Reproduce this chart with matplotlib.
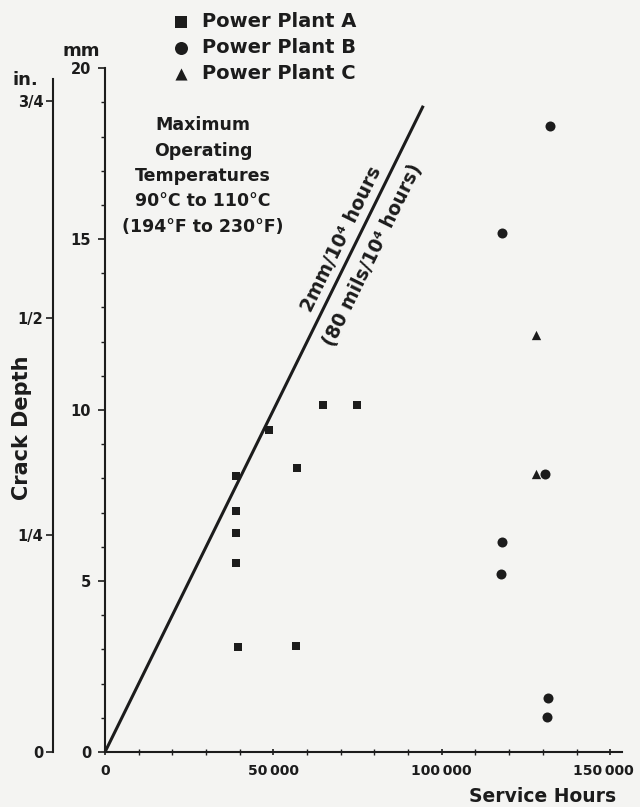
import numpy as np
import matplotlib
matplotlib.use('Agg')
import matplotlib.pyplot as plt
from matplotlib.transforms import ScaledTranslation

# crack depth (mm) vs service hours
plant_a_hours = [38900, 38900, 38900, 38900, 39500, 48700, 57000, 56700, 64700, 74800]
plant_a_mm = [8.07, 7.05, 6.40, 5.53, 3.07, 9.42, 8.30, 3.10, 10.15, 10.15]

plant_b_hours = [132200, 117900, 130700, 117900, 117600, 131600, 131300]
plant_b_mm = [18.3, 15.18, 8.13, 6.14, 5.20, 1.58, 1.02]

plant_c_hours = [128000, 128000]
plant_c_mm = [12.19, 8.13]

line_hours = [0, 94500]
line_mm = [0, 18.9]

x_ticks = [0, 50000, 100000, 150000]
x_labels = ['0', '50\u2009000', '100\u2009000', '150\u2009000']
mm_ticks = [0, 5, 10, 15, 20]
in_ticks = [0, 0.25, 0.5, 0.75]
in_labels = ['0', '1/4', '1/2', '3/4']
temp_lines = ['Maximum', 'Operating', 'Temperatures',
              '90\u00b0C to 110\u00b0C', '(194\u00b0F to 230\u00b0F)']

W, H = 640, 807
ink = '#1c1c1c'
bg = '#f4f4f2'

plt.rcParams['font.family'] = ['DejaVu Sans']
plt.rcParams['font.weight'] = 'bold'
plt.rcParams['text.color'] = ink


def fpos(x, y):
    return x / W, 1 - y / H


fig = plt.figure(figsize=(6.4, 8.07), dpi=100, facecolor=bg)
rect = [105 / W, 55 / H, 517 / W, 689 / H]
ax = fig.add_axes(rect)
ax.set_facecolor('none')
ax.set_xlim(0, 153500)
ax.set_ylim(0, 20.15)

for s in ['top', 'right']:
    ax.spines[s].set_visible(False)
for s in ['left', 'bottom']:
    ax.spines[s].set_linewidth(1.5)
    ax.spines[s].set_color(ink)
ax.spines['left'].set_bounds(0, 20)

ax.set_xticks(x_ticks)
ax.set_xticklabels(x_labels)
ax.set_xticks(np.arange(0, 150001, 10000), minor=True)
ax.set_yticks(mm_ticks)
ax.set_yticks(np.arange(0, 21, 1), minor=True)
ax.tick_params(axis='x', which='major', direction='inout', length=5, width=1.2,
               pad=6, labelsize=10, colors=ink)
ax.tick_params(axis='x', which='minor', direction='inout', length=4, width=1, colors=ink)
ax.tick_params(axis='y', which='major', direction='out', length=5, width=1.2,
               pad=5, labelsize=10.5, colors=ink)
ax.tick_params(axis='y', which='minor', direction='out', length=3, width=1, colors=ink)

# keep the last x label inside the picture
last = ax.get_xticklabels()[-1]
last.set_transform(last.get_transform() + ScaledTranslation(-5 / 72, 0, fig.dpi_scale_trans))

# inch scale on a second spine further left
ax_in = fig.add_axes(rect)
ax_in.patch.set_visible(False)
ax_in.set_ylim(0, 20.15 / 25.4)
for s in ['top', 'right', 'bottom']:
    ax_in.spines[s].set_visible(False)
ax_in.spines['left'].set_position(('axes', (53 - 105) / 517))
ax_in.spines['left'].set_bounds(0, 0.775)
ax_in.spines['left'].set_linewidth(1.5)
ax_in.spines['left'].set_color(ink)
ax_in.set_xticks([])
ax_in.set_yticks(in_ticks)
ax_in.set_yticklabels(in_labels)
ax_in.tick_params(axis='y', direction='out', length=5, width=1.2, pad=2,
                  labelsize=10.5, colors=ink)

# rate line
ax.plot(line_hours, line_mm, color=ink, lw=2.2, solid_capstyle='butt', zorder=2)

ax.scatter(plant_a_hours, plant_a_mm, marker='s', s=38, color=ink, lw=0,
           label='Power Plant A', zorder=3)
ax.scatter(plant_b_hours, plant_b_mm, marker='o', s=52, color=ink, lw=0,
           label='Power Plant B', zorder=3)
ax.scatter(plant_c_hours, plant_c_mm, marker='^', s=45, color=ink, lw=0,
           label='Power Plant C', zorder=3)

ax.legend(loc='upper left', bbox_to_anchor=fpos(171, 12), bbox_transform=fig.transFigure,
          frameon=False, borderpad=0, borderaxespad=0, handlelength=1.0,
          handletextpad=0.6, labelspacing=0.36, scatterpoints=1, markerscale=1.3,
          prop={'weight': 'bold', 'size': 14})

# labels along the line
p0 = ax.transData.transform((line_hours[0], line_mm[0]))
p1 = ax.transData.transform((line_hours[1], line_mm[1]))
ang = np.degrees(np.arctan2(p1[1] - p0[1], p1[0] - p0[0]))
th = np.radians(ang)
h_mid = 74000
mm_mid = line_mm[1] / line_hours[1] * h_mid
ax.annotate('2mm/10\u2074 hours', xy=(h_mid, mm_mid),
            xytext=(-np.sin(th) * 10.5, np.cos(th) * 10.5), textcoords='offset points',
            rotation=ang, rotation_mode='anchor', ha='center', va='center',
            fontsize=13.5, fontweight='bold')
ax.annotate('(80 mils/10\u2074 hours)', xy=(h_mid, mm_mid),
            xytext=(np.sin(th) * 15, -np.cos(th) * 15), textcoords='offset points',
            rotation=ang, rotation_mode='anchor', ha='center', va='center',
            fontsize=13.5, fontweight='bold')

for i, t in enumerate(temp_lines):
    fig.text(*fpos(203, 125 + i * 25.5), t, ha='center', va='center',
             fontsize=12.5, fontweight='bold')

fig.text(*fpos(81, 51), 'mm', ha='center', va='center', fontsize=13, fontweight='bold')
fig.text(*fpos(12, 80), 'in.', ha='left', va='center', fontsize=13, fontweight='bold')
fig.text(*fpos(22, 428), 'Crack Depth', rotation=90, ha='center', va='center',
         fontsize=15, fontweight='bold')
fig.text(*fpos(543, 796), 'Service Hours', ha='center', va='center',
         fontsize=13.5, fontweight='bold')

fig.savefig('out.png', dpi=100, facecolor=bg)
